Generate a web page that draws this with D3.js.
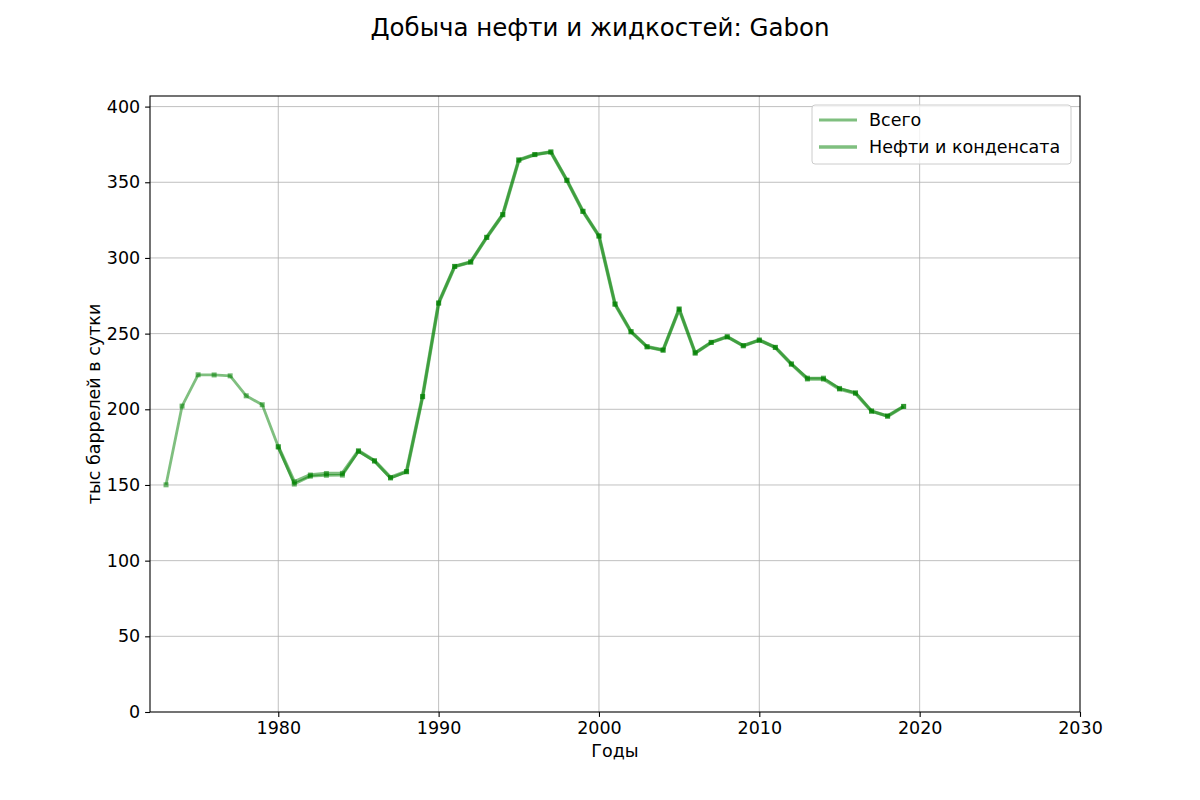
<!DOCTYPE html>
<html>
<head>
<meta charset="utf-8">
<script src="https://cdn.jsdelivr.net/npm/d3@7"></script>
<style>
  body { margin: 0; background: #fff; }
  svg { font-family: 'DejaVu Sans', sans-serif; }
</style>
</head>
<body>
<svg id="chart" width="1200" height="800"></svg>
<script>
// Добыча нефти и жидкостей: Gabon, тыс баррелей в сутки
var totalYears = [1973, 1974, 1975, 1976, 1977, 1978, 1979, 1980, 1981, 1982, 1983, 1984, 1985, 1986, 1987, 1988, 1989,
    1990, 1991, 1992, 1993, 1994, 1995, 1996, 1997, 1998, 1999, 2000, 2001, 2002, 2003, 2004, 2005, 2006, 2007, 2008,
    2009, 2010, 2011, 2012, 2013, 2014, 2015, 2016, 2017, 2018, 2019];
var totalValues = [150.1, 202.1, 222.8, 222.7, 222.1, 208.9, 203.0, 175.2, 150.6, 155.8, 156.4, 156.5, 172.3, 165.8, 154.6, 158.7, 208.3,
    270.2, 294.4, 297.3, 313.6, 328.6, 364.7, 368.3, 370.0, 351.3, 330.8, 314.5, 269.5, 251.3, 241.3, 239.1, 266.2, 237.2, 244.2, 247.9,
    242.0, 245.7, 240.9, 229.9, 220.6, 220.6, 213.8, 210.9, 198.8, 195.5, 201.9];

var oilYears = [1980, 1981, 1982, 1983, 1984, 1985, 1986, 1987, 1988, 1989,
    1990, 1991, 1992, 1993, 1994, 1995, 1996, 1997, 1998, 1999, 2000, 2001, 2002, 2003, 2004, 2005, 2006, 2007, 2008,
    2009, 2010, 2011, 2012, 2013, 2014, 2015, 2016, 2017, 2018, 2019];
var oilValues = [175.2, 152.0, 156.6, 157.6, 157.7, 172.6, 166.0, 154.9, 158.9, 208.5,
    270.2, 294.4, 297.3, 313.6, 328.6, 364.7, 368.3, 370.0, 351.3, 330.8, 314.5, 269.5, 251.2, 241.3, 239.1, 266.2, 237.2, 244.2, 247.9,
    242.0, 245.7, 240.9, 229.9, 220.0, 220.0, 213.4, 210.6, 198.8, 195.5, 201.9];

var xTicks = [1980, 1990, 2000, 2010, 2020, 2030];
var yTicks = [0, 50, 100, 150, 200, 250, 300, 350, 400];
var seriesNames = ['Всего', 'Нефти и конденсата'];

var width = 1200, height = 800;
var margin = { top: 96, right: 120, bottom: 88, left: 150 };
var plotW = width - margin.left - margin.right;
var plotH = height - margin.top - margin.bottom;
var lineGreen = '#008000';
var labelSize = '17.5px';

var svg = d3.select('#chart');

var x = d3.scaleLinear().domain([1972, 2030]).range([0, plotW]);
var yMax = d3.max(totalValues.concat(oilValues)) * 1.1;
var y = d3.scaleLinear().domain([0, yMax]).range([plotH, 0]);

var g = svg.append('g')
    .attr('transform', 'translate(' + margin.left + ',' + margin.top + ')');

// grid
g.append('g')
    .attr('class', 'grid')
    .selectAll('line.vx')
    .data(xTicks.filter(function(d){ return d < 2030; }))
    .enter().append('line')
        .attr('x1', function(d){ return x(d); }).attr('x2', function(d){ return x(d); })
        .attr('y1', 0).attr('y2', plotH)
        .attr('stroke', '#b0b0b0').attr('stroke-width', 0.8);

g.append('g')
    .attr('class', 'grid')
    .selectAll('line.hy')
    .data(yTicks.filter(function(d){ return d > 0; }))
    .enter().append('line')
        .attr('x1', 0).attr('x2', plotW)
        .attr('y1', function(d){ return y(d); }).attr('y2', function(d){ return y(d); })
        .attr('stroke', '#b0b0b0').attr('stroke-width', 0.8);

// axes
var xAxis = g.append('g')
    .attr('transform', 'translate(0,' + plotH + ')')
    .call(d3.axisBottom(x).tickValues(xTicks).tickFormat(d3.format('d')).tickSizeInner(4.9).tickSizeOuter(0).tickPadding(4.9));
var yAxis = g.append('g')
    .call(d3.axisLeft(y).tickValues(yTicks).tickSizeInner(4.9).tickSizeOuter(0).tickPadding(4.9));

[xAxis, yAxis].forEach(function(ax) {
    ax.select('.domain').remove();
    ax.selectAll('line').attr('stroke', '#000').attr('stroke-width', 1.1);
    ax.selectAll('text')
        .attr('fill', '#000')
        .style('font-size', labelSize)
        .style('font-family', "'DejaVu Sans', sans-serif");
});

// series
var lineGen = function(years) {
    return d3.line()
        .x(function(d, i){ return x(years[i]); })
        .y(function(d){ return y(d); });
};

function drawSeries(years, values, lw) {
    g.append('path')
        .datum(values)
        .attr('d', lineGen(years))
        .attr('fill', 'none')
        .attr('stroke', lineGreen)
        .attr('stroke-opacity', 0.5)
        .attr('stroke-width', lw)
        .attr('stroke-linejoin', 'round')
        .attr('stroke-linecap', 'butt');

    g.append('g')
        .selectAll('rect')
        .data(values)
        .enter().append('rect')
            .attr('x', function(d, i){ return x(years[i]) - 2.5; })
            .attr('y', function(d){ return y(d) - 2.5; })
            .attr('width', 5).attr('height', 5)
            .attr('fill', lineGreen)
            .attr('fill-opacity', 0.55);
}

drawSeries(totalYears, totalValues, 2.8);
drawSeries(oilYears, oilValues, 3.6);

// frame
g.append('rect')
    .attr('x', 0).attr('y', 0)
    .attr('width', plotW).attr('height', plotH)
    .attr('fill', 'none')
    .attr('stroke', '#000')
    .attr('stroke-width', 1.1);

// legend
var legend = g.append('g')
    .attr('transform', 'translate(' + (plotW - 268) + ',9)');

legend.append('rect')
    .attr('width', 259).attr('height', 59)
    .attr('rx', 3).attr('ry', 3)
    .attr('fill', '#fff').attr('fill-opacity', 0.8)
    .attr('stroke', '#cccccc').attr('stroke-width', 1);

seriesNames.forEach(function(name, i) {
    var ly = 15 + i * 27;
    legend.append('line')
        .attr('x1', 7).attr('x2', 45)
        .attr('y1', ly).attr('y2', ly)
        .attr('stroke', lineGreen)
        .attr('stroke-opacity', 0.5)
        .attr('stroke-width', i === 0 ? 2.8 : 3.6);
    legend.append('text')
        .attr('x', 57).attr('y', ly)
        .attr('dy', '0.36em')
        .style('font-size', labelSize)
        .attr('fill', '#000')
        .text(name);
});

// titles
svg.append('text')
    .attr('x', width / 2).attr('y', 36)
    .attr('text-anchor', 'middle')
    .style('font-size', '24.5px')
    .attr('fill', '#000')
    .text('Добыча нефти и жидкостей: Gabon');

svg.append('text')
    .attr('x', margin.left + plotW / 2).attr('y', 757)
    .attr('text-anchor', 'middle')
    .style('font-size', labelSize)
    .attr('fill', '#000')
    .text('Годы');

svg.append('text')
    .attr('transform', 'translate(100,' + (margin.top + plotH / 2) + ') rotate(-90)')
    .attr('text-anchor', 'middle')
    .style('font-size', labelSize)
    .attr('fill', '#000')
    .text('тыс баррелей в сутки');
</script>
</body>
</html>
